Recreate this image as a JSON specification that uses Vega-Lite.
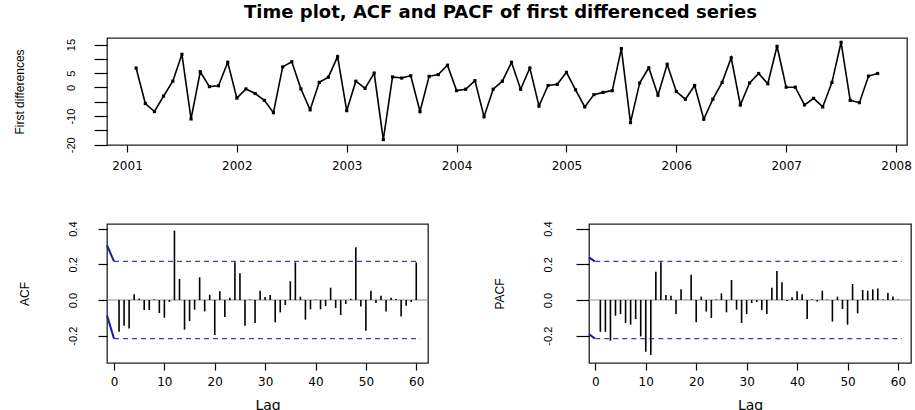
{
 "$schema": "https://vega.github.io/schema/vega-lite/v6.json",
 "padding": {"left": 12, "top": 4, "right": 0, "bottom": 0},
 "background": "white",
 "title": {"text": "Time plot, ACF and PACF of first differenced series", "font": "DejaVu Sans", "fontSize": 18, "fontWeight": "bold", "color": "#000", "anchor": "middle", "offset": 15, "dx": 38},
 "config": {
  "view": {"stroke": "#222", "strokeWidth": 1.3},
  "axis": {"grid": false, "domain": false, "tickColor": "#000", "tickWidth": 1.2, "labelColor": "#000", "titleColor": "#000", "labelFont": "DejaVu Sans", "titleFont": "Liberation Sans", "titleFontWeight": "normal", "labelOverlap": false, "labelFlush": false}
 },
 "datasets": {
  "series": [
   {"t":2001.083,"v":6.8},{"t":2001.167,"v":-5.6},{"t":2001.25,"v":-8.4},{"t":2001.333,"v":-3.0},{"t":2001.417,"v":2.2},{"t":2001.5,"v":11.6},{"t":2001.583,"v":-11.0},{"t":2001.667,"v":5.5},{"t":2001.75,"v":0.3},{"t":2001.833,"v":0.6},{"t":2001.917,"v":8.8},
   {"t":2002,"v":-3.7},{"t":2002.083,"v":-0.5},{"t":2002.167,"v":-2.1},{"t":2002.25,"v":-4.5},{"t":2002.333,"v":-8.8},{"t":2002.417,"v":7.2},{"t":2002.5,"v":9.0},{"t":2002.583,"v":-0.5},{"t":2002.667,"v":-7.8},{"t":2002.75,"v":1.8},{"t":2002.833,"v":3.6},{"t":2002.917,"v":10.8},
   {"t":2003,"v":-8.1},{"t":2003.083,"v":2.2},{"t":2003.167,"v":-0.3},{"t":2003.25,"v":5.0},{"t":2003.333,"v":-18.2},{"t":2003.417,"v":3.7},{"t":2003.5,"v":3.3},{"t":2003.583,"v":4.1},{"t":2003.667,"v":-8.4},{"t":2003.75,"v":3.9},{"t":2003.833,"v":4.5},{"t":2003.917,"v":7.8},
   {"t":2004,"v":-1.1},{"t":2004.083,"v":-0.6},{"t":2004.167,"v":2.4},{"t":2004.25,"v":-10.2},{"t":2004.333,"v":-0.6},{"t":2004.417,"v":2.2},{"t":2004.5,"v":8.8},{"t":2004.583,"v":-0.6},{"t":2004.667,"v":6.8},{"t":2004.75,"v":-6.5},{"t":2004.833,"v":0.7},{"t":2004.917,"v":1.1},
   {"t":2005,"v":5.3},{"t":2005.083,"v":-0.8},{"t":2005.167,"v":-6.8},{"t":2005.25,"v":-2.5},{"t":2005.333,"v":-1.7},{"t":2005.417,"v":-1.1},{"t":2005.5,"v":13.6},{"t":2005.583,"v":-12.3},{"t":2005.667,"v":1.6},{"t":2005.75,"v":6.9},{"t":2005.833,"v":-2.7},{"t":2005.917,"v":8.1},
   {"t":2006,"v":-1.4},{"t":2006.083,"v":-4.1},{"t":2006.167,"v":0.7},{"t":2006.25,"v":-11.1},{"t":2006.333,"v":-4.1},{"t":2006.417,"v":1.8},{"t":2006.5,"v":10.4},{"t":2006.583,"v":-6.1},{"t":2006.667,"v":1.6},{"t":2006.75,"v":4.9},{"t":2006.833,"v":1.3},{"t":2006.917,"v":14.4},
   {"t":2007,"v":0.1},{"t":2007.083,"v":0.1},{"t":2007.167,"v":-6.1},{"t":2007.25,"v":-3.8},{"t":2007.333,"v":-6.8},{"t":2007.417,"v":1.8},{"t":2007.5,"v":15.8},{"t":2007.583,"v":-4.5},{"t":2007.667,"v":-5.3},{"t":2007.75,"v":4.0},{"t":2007.833,"v":4.9}
  ],
  "acf": [
   {"lag":1,"r":-0.178},{"lag":2,"r":-0.144},{"lag":3,"r":-0.159},{"lag":4,"r":0.032},{"lag":5,"r":0.009},{"lag":6,"r":-0.056},{"lag":7,"r":-0.056},{"lag":8,"r":0.004},{"lag":9,"r":-0.073},{"lag":10,"r":-0.099},
   {"lag":11,"r":-0.011},{"lag":12,"r":0.389},{"lag":13,"r":0.118},{"lag":14,"r":-0.166},{"lag":15,"r":-0.118},{"lag":16,"r":-0.054},{"lag":17,"r":0.127},{"lag":18,"r":-0.064},{"lag":19,"r":0.030},{"lag":20,"r":-0.196},
   {"lag":21,"r":0.050},{"lag":22,"r":-0.095},{"lag":23,"r":0.013},{"lag":24,"r":0.211},{"lag":25,"r":0.150},{"lag":26,"r":-0.144},{"lag":27,"r":0.003},{"lag":28,"r":-0.129},{"lag":29,"r":0.052},{"lag":30,"r":0.017},
   {"lag":31,"r":0.028},{"lag":32,"r":-0.125},{"lag":33,"r":-0.069},{"lag":34,"r":-0.028},{"lag":35,"r":0.105},{"lag":36,"r":0.211},{"lag":37,"r":0.019},{"lag":38,"r":-0.110},{"lag":39,"r":-0.052},{"lag":40,"r":0.002},
   {"lag":41,"r":-0.052},{"lag":42,"r":-0.034},{"lag":43,"r":0.069},{"lag":44,"r":-0.045},{"lag":45,"r":-0.084},{"lag":46,"r":-0.022},{"lag":47,"r":0.007},{"lag":48,"r":0.295},{"lag":49,"r":-0.036},{"lag":50,"r":-0.172},
   {"lag":51,"r":0.052},{"lag":52,"r":-0.017},{"lag":53,"r":0.024},{"lag":54,"r":-0.064},{"lag":55,"r":0.013},{"lag":56,"r":0.006},{"lag":57,"r":-0.092},{"lag":58,"r":-0.032},{"lag":59,"r":-0.011},{"lag":60,"r":0.211}
  ],
  "pacf": [
   {"lag":1,"r":-0.178},{"lag":2,"r":-0.178},{"lag":3,"r":-0.228},{"lag":4,"r":-0.088},{"lag":5,"r":-0.079},{"lag":6,"r":-0.129},{"lag":7,"r":-0.138},{"lag":8,"r":-0.107},{"lag":9,"r":-0.204},{"lag":10,"r":-0.290},
   {"lag":11,"r":-0.308},{"lag":12,"r":0.159},{"lag":13,"r":0.211},{"lag":14,"r":0.028},{"lag":15,"r":0.024},{"lag":16,"r":-0.079},{"lag":17,"r":0.060},{"lag":18,"r":0.002},{"lag":19,"r":0.142},{"lag":20,"r":-0.125},
   {"lag":21,"r":0.019},{"lag":22,"r":-0.065},{"lag":23,"r":-0.101},{"lag":24,"r":0.003},{"lag":25,"r":0.037},{"lag":26,"r":-0.069},{"lag":27,"r":0.112},{"lag":28,"r":-0.054},{"lag":29,"r":-0.129},{"lag":30,"r":-0.079},
   {"lag":31,"r":-0.017},{"lag":32,"r":-0.011},{"lag":33,"r":-0.056},{"lag":34,"r":-0.079},{"lag":35,"r":0.069},{"lag":36,"r":0.163},{"lag":37,"r":0.099},{"lag":38,"r":-0.006},{"lag":39,"r":0.015},{"lag":40,"r":0.049},
   {"lag":41,"r":0.032},{"lag":42,"r":-0.107},{"lag":43,"r":0.004},{"lag":44,"r":-0.009},{"lag":45,"r":0.052},{"lag":46,"r":0.002},{"lag":47,"r":-0.121},{"lag":48,"r":0.019},{"lag":49,"r":-0.050},{"lag":50,"r":-0.138},
   {"lag":51,"r":0.090},{"lag":52,"r":-0.075},{"lag":53,"r":0.056},{"lag":54,"r":0.052},{"lag":55,"r":0.060},{"lag":56,"r":0.065},{"lag":57,"r":0.003},{"lag":58,"r":0.039},{"lag":59,"r":0.019},{"lag":60,"r":0.003}
  ],
  "bounds": [{"b":0.2164},{"b":-0.2164}],
  "acfslant": [{"l0":-1.39,"r0":0.307,"l1":0,"r1":0.2164},{"l0":-1.39,"r0":-0.086,"l1":0,"r1":-0.2164}],
  "pacfslant": [{"l0":-1.25,"r0":0.239,"l1":-0.1,"r1":0.2164},{"l0":-1.25,"r0":-0.19,"l1":-0.1,"r1":-0.2164}]
 },
 "bounds": "flush",
 "spacing": 79,
 "vconcat": [
  {
   "width": 800, "height": 107,
   "data": {"name": "series"},
   "encoding": {
    "x": {"field": "t", "type": "quantitative", "scale": {"domain": [2000.818, 2008.1], "nice": false, "zero": false},
          "axis": {"values": [2001,2002,2003,2004,2005,2006,2007,2008], "format": "d", "title": null, "labelFontSize": 12, "tickSize": 7, "labelPadding": 8}},
    "y": {"field": "v", "type": "quantitative", "scale": {"domain": [-20.1, 17.3], "nice": false, "zero": false},
          "axis": {"values": [-20,-15,-10,-5,0,5,10,15], "labelExpr": "indexof([15,5,0,-10,-20], datum.value) >= 0 ? ((datum.value < 0 ? '-' : '') + format(abs(datum.value), 'd')) : ''",
                   "labelAngle": 270, "labelAlign": "center", "labelBaseline": "bottom", "labelFont": "Liberation Sans", "labelFontSize": 11, "tickSize": 13, "labelPadding": 18,
                   "title": "First differences", "titleAngle": 270, "titleAlign": "center", "titleBaseline": "middle", "titleX": -87.5, "titleY": 53.5, "titleFontSize": 12}}
   },
   "layer": [
    {"mark": {"type": "line", "color": "#000", "strokeWidth": 1.6}},
    {"mark": {"type": "square", "color": "#000", "size": 10, "opacity": 1}}
   ]
  },
  {
   "bounds": "flush",
   "spacing": 161,
   "hconcat": [
    {
     "width": 321, "height": 139,
     "layer": [
      {"data": {"values": [{}]}, "mark": {"type": "rule", "color": "#8c8c8c", "strokeWidth": 1}, "encoding": {"y": {"datum": 0}}},
      {"data": {"name": "bounds"}, "mark": {"type": "rule", "color": "#3b3bc4", "strokeWidth": 1.1, "strokeDash": [5, 4]},
       "encoding": {"x": {"datum": 0}, "x2": {"datum": 60.8}, "y": {"field": "b", "type": "quantitative"}}},
      {"data": {"name": "acfslant"}, "mark": {"type": "rule", "color": "#1c1c9c", "strokeWidth": 2},
       "encoding": {"x": {"field": "l0", "type": "quantitative"}, "x2": {"field": "l1"}, "y": {"field": "r0", "type": "quantitative"}, "y2": {"field": "r1"}}},
      {"data": {"name": "acf"}, "mark": {"type": "rule", "color": "#000", "strokeWidth": 1.6},
       "encoding": {
        "x": {"field": "lag", "type": "quantitative", "scale": {"domain": [-1.39, 62.33], "nice": false, "zero": false},
              "axis": {"values": [0,10,20,30,40,50,60], "title": "Lag", "labelFontSize": 12, "tickSize": 7, "labelPadding": 6, "titleFont": "DejaVu Sans", "titleFontSize": 14, "titleBaseline": "alphabetic", "titleY": 46.5}},
        "y": {"field": "r", "type": "quantitative", "scale": {"domain": [-0.353, 0.426], "nice": false, "zero": false},
              "axis": {"values": [-0.2, 0, 0.2, 0.4], "labelExpr": "(datum.value < 0 ? '-' : '') + format(abs(datum.value), '.1f')",
                       "labelAngle": 270, "labelAlign": "center", "labelBaseline": "bottom", "labelFont": "Liberation Sans", "labelFontSize": 11, "tickSize": 9, "labelPadding": 20,
                       "title": "ACF", "titleAngle": 270, "titleAlign": "center", "titleBaseline": "middle", "titleX": -83, "titleY": 69.5, "titleFontSize": 12}},
        "y2": {"datum": 0}
       }}
     ]
    },
    {
     "width": 322, "height": 139,
     "layer": [
      {"data": {"values": [{}]}, "mark": {"type": "rule", "color": "#8c8c8c", "strokeWidth": 1}, "encoding": {"y": {"datum": 0}}},
      {"data": {"name": "bounds"}, "mark": {"type": "rule", "color": "#3b3bc4", "strokeWidth": 1.1, "strokeDash": [5, 4]},
       "encoding": {"x": {"datum": 0}, "x2": {"datum": 60.8}, "y": {"field": "b", "type": "quantitative"}}},
      {"data": {"name": "pacfslant"}, "mark": {"type": "rule", "color": "#1c1c9c", "strokeWidth": 2},
       "encoding": {"x": {"field": "l0", "type": "quantitative"}, "x2": {"field": "l1"}, "y": {"field": "r0", "type": "quantitative"}, "y2": {"field": "r1"}}},
      {"data": {"name": "pacf"}, "mark": {"type": "rule", "color": "#000", "strokeWidth": 1.6},
       "encoding": {
        "x": {"field": "lag", "type": "quantitative", "scale": {"domain": [-1.25, 62.58], "nice": false, "zero": false},
              "axis": {"values": [0,10,20,30,40,50,60], "title": "Lag", "labelFontSize": 12, "tickSize": 7, "labelPadding": 6, "titleFont": "DejaVu Sans", "titleFontSize": 14, "titleBaseline": "alphabetic", "titleY": 46.5}},
        "y": {"field": "r", "type": "quantitative", "scale": {"domain": [-0.353, 0.426], "nice": false, "zero": false},
              "axis": {"values": [-0.2, 0, 0.2, 0.4], "labelExpr": "(datum.value < 0 ? '-' : '') + format(abs(datum.value), '.1f')",
                       "labelAngle": 270, "labelAlign": "center", "labelBaseline": "bottom", "labelFont": "Liberation Sans", "labelFontSize": 11, "tickSize": 13, "labelPadding": 23,
                       "title": "PACF", "titleAngle": 270, "titleAlign": "center", "titleBaseline": "middle", "titleX": -90, "titleY": 69.5, "titleFontSize": 12}},
        "y2": {"datum": 0}
       }}
     ]
    }
   ]
  }
 ]
}
